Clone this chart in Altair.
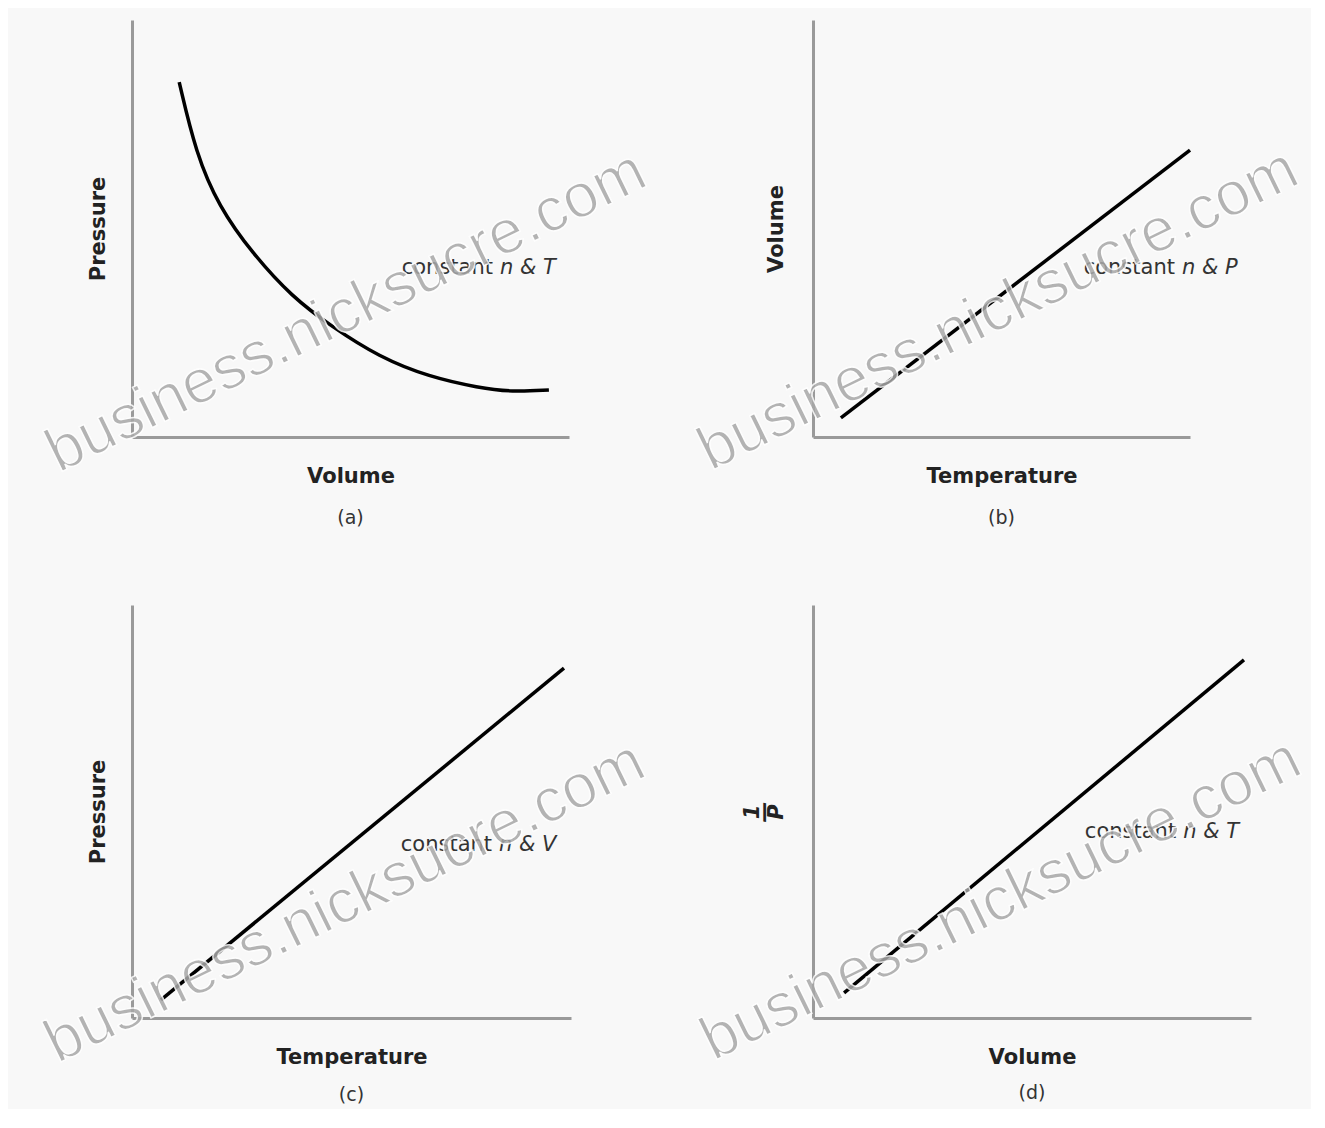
import altair as alt
import pandas as pd

FONT = "DejaVu Sans"

# ---- curve / line values (axis units 0..10, unitless sketch graphs) ----
# (a) Pressure vs Volume, constant n & T
a_vol = [1.08, 1.46, 1.99, 2.75, 3.66, 4.58, 5.65, 6.80, 7.94, 8.70, 9.54]
a_pres = [8.51, 6.81, 5.52, 4.41, 3.36, 2.64, 1.92, 1.44, 1.18, 1.08, 1.13]
# (b) Volume vs Temperature, constant n & P
b_temp = [0.74, 10.0]
b_vol = [0.46, 6.88]
# (c) Pressure vs Temperature, constant n & V
c_temp = [0.66, 9.84]
c_pres = [0.44, 8.47]
# (d) 1/P vs Volume, constant n & T
d_vol = [0.71, 9.84]
d_invp = [0.61, 8.67]

x_titles = ["Volume", "Temperature", "Temperature", "Volume"]
y_titles = ["Pressure", "Volume", "Pressure", ["1", "\u2014", "P"]]
captions = ["(a)", "(b)", "(c)", "(d)"]
const_word = ["constant", "constant", "constant", "constant"]
const_vars = ["n & T", "n & P", "n & V", "n & T"]
label_x = [8.33, 9.68, 8.27, 8.36]
label_y = [4.05, 4.05, 4.19, 4.50]
watermark = "business.nicksucre.com"
wm_x = [4.9, 4.91, 4.85, 4.29]
wm_y = [3.0, 3.05, 2.8, 2.86]

series = [(a_vol, a_pres, "basis"), (b_temp, b_vol, "linear"),
          (c_temp, c_pres, "linear"), (d_vol, d_invp, "linear")]
widths = [437, 377, 439, 438]
heights = [417, 417, 413, 413]
caption_offsets = [23, 23, 12, 12]
ytitle_pad = [24, 27, 24, 27]


def panel(i):
    xs, ys, interp = series[i]
    line_df = pd.DataFrame({"x": xs, "y": ys})
    xscale = alt.Scale(domain=[0, 10], nice=False, zero=False)
    yscale = alt.Scale(domain=[0, 10], nice=False, zero=False)
    common = dict(domain=True, domainColor="#9a9a9a", domainWidth=3, ticks=False,
                  labels=False, grid=False, titleFont=FONT, titleFontSize=21,
                  titleFontWeight="bold", titleColor="#222222")
    xaxis = alt.Axis(title=x_titles[i], titlePadding=28, **common)
    if i == 3:
        yaxis = alt.Axis(title=y_titles[i], titlePadding=ytitle_pad[i], titleLineHeight=12,
                         titleFontStyle="italic", **common)
    else:
        yaxis = alt.Axis(title=y_titles[i], titlePadding=ytitle_pad[i], **common)

    line = alt.Chart(line_df).mark_line(
        color="black", strokeWidth=3.5, interpolate=interp
    ).encode(
        x=alt.X("x:Q", scale=xscale, axis=xaxis),
        y=alt.Y("y:Q", scale=yscale, axis=yaxis),
    )
    lab_df = pd.DataFrame({"x": [label_x[i]], "y": [label_y[i]],
                           "w": [const_word[i]], "v": [const_vars[i]]})
    t1 = alt.Chart(lab_df).mark_text(
        align="right", baseline="middle", dx=-3, font=FONT, fontSize=21, color="#333333"
    ).encode(x="x:Q", y="y:Q", text="w:N")
    t2 = alt.Chart(lab_df).mark_text(
        align="left", baseline="middle", dx=4, font=FONT, fontSize=21,
        fontStyle="italic", color="#333333"
    ).encode(x="x:Q", y="y:Q", text="v:N")
    wm_df = pd.DataFrame({"x": [wm_x[i]], "y": [wm_y[i]], "t": [watermark]})
    wm = alt.Chart(wm_df).mark_text(
        angle=334, align="center", baseline="middle", font="Liberation Sans",
        fontSize=62, color="#a8a8a8", opacity=0.85, stroke="white", strokeWidth=1.5
    ).encode(x="x:Q", y="y:Q", text="t:N")

    return alt.layer(line, t1, t2, wm).properties(
        width=widths[i], height=heights[i],
        title=alt.TitleParams(captions[i], orient="bottom", anchor="middle", frame="group",
                              offset=caption_offsets[i], font=FONT, fontSize=19,
                              fontWeight="normal", color="#333333"),
    )


chart = alt.concat(
    panel(0), panel(1), panel(2), panel(3),
    columns=2, spacing={"row": 168, "column": 242}, bounds="flush", align="each",
).configure(
    background="#f8f8f8",
    padding={"left": 27, "top": 12, "right": 0, "bottom": 3},
).configure_view(stroke=None)

chart.save("out.html", embed_options={"renderer": "svg", "actions": False})
